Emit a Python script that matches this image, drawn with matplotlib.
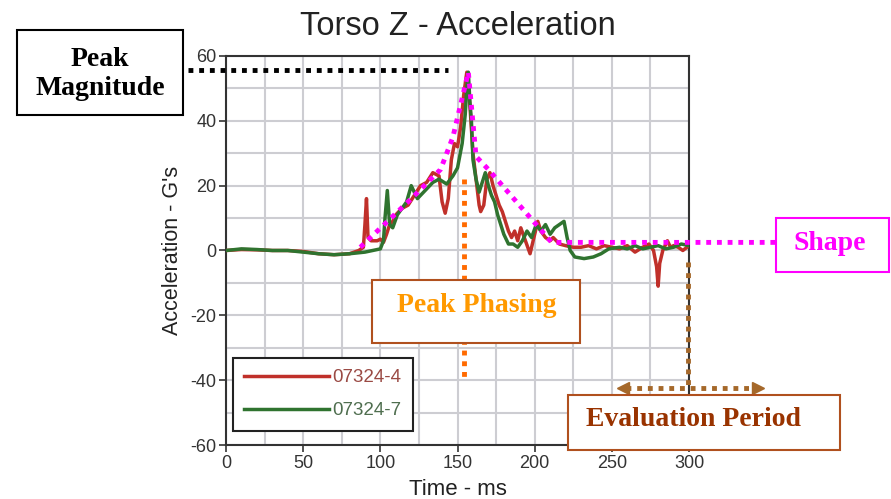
import numpy as np
import matplotlib
matplotlib.use("Agg")
import matplotlib.pyplot as plt
from matplotlib.patches import Rectangle
from matplotlib.ticker import MultipleLocator

# test 07324-4 (red)
t_red = [0, 10, 20, 30, 40, 50, 60, 70, 80, 86, 89, 90, 91, 92, 94, 98, 100, 102,
         104, 106, 108, 110, 114, 118, 122, 126, 130, 134, 138, 140, 142, 144, 146,
         148, 150, 152, 154, 156, 158, 160, 162, 164, 165, 167, 169, 171, 173, 175,
         177, 179, 181, 183, 185, 187, 189, 191, 194, 197, 200, 202, 204, 207, 210,
         212, 216, 220, 225, 230, 235, 240, 245, 250, 255, 260, 265, 270, 274, 277,
         279, 280, 281, 283, 286, 288, 290, 293, 296, 300]
a_red = [0, 0.3, 0.2, 0, 0, -0.3, -1, -1.3, -1, 0, 1, 8, 16, 4, 3, 3, 3.5, 2.5,
         5, 8, 9, 11, 13, 14, 17, 20, 21, 24, 23, 15, 11.5, 16, 28,
         33, 32, 38, 48, 55, 45, 30, 22, 14, 12, 14, 22, 24, 20, 17,
         14, 12, 9, 6, 4, 6, 3, 7, 3, -1, 5, 9, 6, 4, 3,
         4, 2, 1.5, 1, 1, 1.5, 0.5, 1.5, 1, 0.5, 1.5, -0.5, 1, 2, 0,
         -5, -11, -4, 0, 3, 1, 1.5, 1, 0, 1.5]

# test 07324-7 (green)
t_grn = [0, 10, 20, 30, 40, 50, 60, 70, 80, 90, 95, 100, 102, 103, 104.5, 106, 108,
         111, 114, 117, 120, 124, 130, 134, 138, 143, 147, 150, 153, 155, 156, 157,
         158, 159, 160, 162, 164, 166, 168, 170, 172, 174, 176, 180, 183, 186, 189,
         192, 195, 198, 201, 204, 207, 210, 213, 216, 219, 221, 223, 226, 232, 238,
         243, 248, 255, 260, 265, 270, 275, 280, 285, 290, 295, 300]
a_grn = [0, 0.5, 0.3, 0, 0, -0.5, -1, -1.3, -1, -0.5, 0, 0.5, 3, 10, 18.5, 8, 7,
         11, 13, 15, 20, 16, 19, 21, 22, 20.5, 23, 25.5, 33, 42, 50, 55,
         46, 40, 28, 22, 18, 21, 24, 20, 17, 15, 11, 5, 2, 2, 1,
         3, 6, 4, 8, 6, 8, 5, 7, 8, 9, 4, 0, -2, -2.5, -2,
         -1, 0.5, 1, 0.5, 1.5, 0.5, 1, 1.5, 0.5, 1, 2, 1.5]

# annotation guide lines (data units)
shape_t = [87, 119, 139, 147, 157, 162, 170, 211, 356]
shape_a = [1, 15.5, 25, 35, 55, 29, 25, 2.5, 2.5]
peak_val = 55.6
peak_t = 154

plt.rcParams['font.family'] = ['Liberation Sans', 'DejaVu Sans']
plt.rcParams['axes.unicode_minus'] = False

fig = plt.figure(figsize=(8.91, 4.99), dpi=100)
ax = fig.add_axes([0.2537, 0.1082, 0.5196, 0.7796])

ax.set_xlim(0, 300)
ax.set_ylim(-60, 60)
ax.xaxis.set_major_locator(MultipleLocator(50))
ax.xaxis.set_minor_locator(MultipleLocator(25))
ax.yaxis.set_major_locator(MultipleLocator(20))
ax.yaxis.set_minor_locator(MultipleLocator(10))
ax.grid(True, which='both', color='#cdcdd2', lw=1.5, zorder=0)
ax.tick_params(which='minor', length=0)
ax.tick_params(which='major', direction='out', length=5, width=1.2,
               labelsize=13, colors='#333333', pad=2)
for s in ax.spines.values():
    s.set_color('#333333')
    s.set_linewidth(1.5)
ax.axhline(0, color='#222222', lw=1.2, zorder=1)

ax.plot(t_red, a_red, color='#c0302a', lw=2.5, label='07324-4', zorder=3)
ax.plot(t_grn, a_grn, color='#2f732f', lw=2.5, label='07324-7', zorder=3)

ax.set_title('Torso Z - Acceleration', fontsize=23.5, color='#222222', pad=15)
ax.set_xlabel('Time - ms', fontsize=16, color='#222222', labelpad=5)
ax.set_ylabel("Acceleration - G's", fontsize=15.5, color='#222222')
ax.yaxis.set_label_coords(-0.093, 0.5)

leg = ax.legend(loc='upper left', bbox_to_anchor=(0.015, 0.2237), borderaxespad=0,
                fontsize=13.5, handlelength=4.5, handletextpad=0.2,
                labelspacing=0.85, fancybox=False, framealpha=1, borderpad=0.6,
                labelcolor=['#9a4a44', '#4f6e4f'])
leg.get_frame().set_edgecolor('#222222')
leg.get_frame().set_linewidth(1.5)
leg.set_zorder(5)

# guide lines
dot = dict(ls=(0, (1, 1.2)), lw=3.5, clip_on=False, zorder=6, dash_capstyle='butt')
ax.plot([-24.7, 144], [peak_val, peak_val], color='black', **dot)
ax.plot(shape_t, shape_a, color='#ff00ff', **dot)
ax.plot([peak_t, peak_t], [22, -39], color='#ff6a00', **dot)
ax.plot([299.4, 299.4], [-3.7, -42.3], color='#a5682a', **dot)
ax.plot([259, 343], [-42.3, -42.3], color='#a5682a', **dot)
ax.plot([257], [-42.3], marker='<', ms=9, color='#a5682a', clip_on=False, zorder=6)
ax.plot([345], [-42.3], marker='>', ms=9, color='#a5682a', clip_on=False, zorder=6)

W, H = 891, 499


def box(x0, y0, x1, y1, edge, lines, color, cx=None, cy=None):
    fig.add_artist(Rectangle((x0 / W, 1 - y1 / H), (x1 - x0) / W, (y1 - y0) / H,
                             transform=fig.transFigure, fc='white', ec=edge,
                             lw=1.5, zorder=10))
    cx = (x0 + x1) / 2 if cx is None else cx
    cy = (y0 + y1) / 2 if cy is None else cy
    fig.text(cx / W, 1 - cy / H, lines, ha='center', va='center', color=color,
             fontsize=20, fontweight='bold', family='Liberation Serif',
             linespacing=1.25, zorder=11)


box(17, 30, 183, 115, 'black', 'Peak\nMagnitude', 'black', cy=74)
box(776, 218, 889, 272, '#ff00ff', 'Shape', '#ff00ff', cx=830, cy=244)
box(372, 280, 580, 343, '#b0501e', 'Peak Phasing', '#ff9900', cx=477, cy=306)
box(568, 395, 840, 450, '#b0501e', 'Evaluation Period', '#993300', cx=694, cy=420)

fig.savefig('out.png', dpi=100, facecolor='white')
